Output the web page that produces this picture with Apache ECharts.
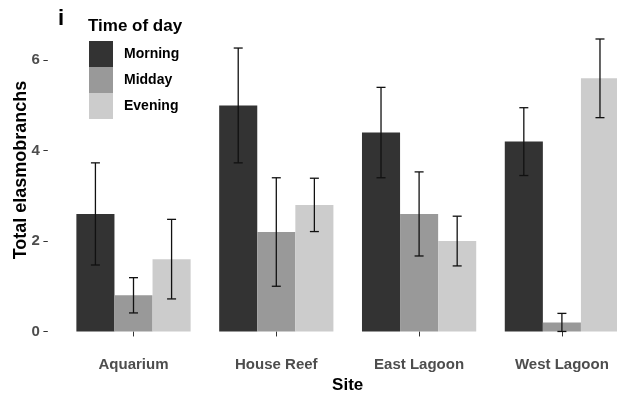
<!DOCTYPE html>
<html>
<head>
<meta charset="utf-8">
<script src="https://cdn.jsdelivr.net/npm/echarts@6/dist/echarts.min.js"></script>
<style>
  html, body { margin: 0; padding: 0; background: #fff; }
  #chart { width: 617px; height: 398px; }
</style>
</head>
<body>
<div id="chart"></div>
<script>
// Elasmobranch counts per site, split by time of day (mean ± SE)
const sites = ['Aquarium', 'House Reef', 'East Lagoon', 'West Lagoon'];
const periods = ['Morning', 'Midday', 'Evening'];
const morning = [2.6, 5.0, 4.4, 4.2];
const midday = [0.8, 2.2, 2.6, 0.2];
const evening = [1.6, 2.8, 2.0, 5.6];
const morningErr = [1.13, 1.27, 1.0, 0.75];
const middayErr = [0.39, 1.2, 0.93, 0.2];
const eveningErr = [0.88, 0.59, 0.55, 0.87];
const yTicks = [0, 2, 4, 6];

const means = [morning, midday, evening];
const errs = [morningErr, middayErr, eveningErr];
const fills = ['#333333', '#999999', '#cccccc'];
const GROUP = 0.8; // share of each category band covered by the bars

const chart = echarts.init(document.getElementById('chart'));

const barSeries = periods.map((p, k) => ({
  name: p,
  type: 'bar',
  data: means[k],
  barWidth: (GROUP * 100 / 3) + '%',
  barGap: '0%',
  itemStyle: { color: fills[k] },
  emphasis: { disabled: true },
  z: 2
}));

const errData = [];
periods.forEach((p, k) => {
  sites.forEach((s, i) => errData.push([i, means[k][i], errs[k][i], k]));
});

const errSeries = {
  type: 'custom',
  data: errData,
  z: 5,
  silent: true,
  renderItem: function (params, api) {
    const i = api.value(0), m = api.value(1), e = api.value(2), k = api.value(3);
    const band = api.size([1, 0])[0];
    const dx = (k - 1) * band * GROUP / 3;
    const top = api.coord([i, m + e]);
    const bot = api.coord([i, Math.max(m - e, 0)]);
    const x = top[0] + dx;
    const cap = 4.5;
    const style = { stroke: '#111', lineWidth: 1.3 };
    return {
      type: 'group',
      children: [
        { type: 'line', shape: { x1: x, y1: top[1], x2: x, y2: bot[1] }, style },
        { type: 'line', shape: { x1: x - cap, y1: top[1], x2: x + cap, y2: top[1] }, style },
        { type: 'line', shape: { x1: x - cap, y1: bot[1], x2: x + cap, y2: bot[1] }, style }
      ]
    };
  }
};

chart.setOption({
  animation: false,
  backgroundColor: '#ffffff',
  textStyle: { fontFamily: 'Liberation Sans, Arial, sans-serif' },
  title: {
    text: 'Time of day',
    left: 83,
    top: 13,
    textStyle: { fontSize: 17, fontWeight: 'bold', color: '#000' }
  },
  legend: {
    orient: 'vertical',
    left: 84,
    top: 36,
    itemWidth: 24,
    itemHeight: 26,
    itemGap: 0,
    icon: 'rect',
    data: periods,
    selectedMode: false,
    textStyle: { fontSize: 14, fontWeight: 'bold', color: '#000', padding: [0, 0, 0, 6] }
  },
  grid: {
    left: 62.1, width: 571.2, top: 22, bottom: 51.8,
    containLabel: false, outerBoundsMode: 'none'
  },
  xAxis: {
    type: 'category',
    data: sites,
    axisLine: { show: false },
    axisTick: { show: true, alignWithLabel: true, length: 5, lineStyle: { color: '#333' } },
    axisLabel: { fontSize: 15, fontWeight: 'bold', color: '#4d4d4d', margin: 11 },
    name: 'Site',
    nameLocation: 'middle',
    nameGap: 29,
    nameTextStyle: { fontSize: 17, fontWeight: 'bold', color: '#000' }
  },
  yAxis: {
    type: 'value',
    min: -0.326,
    max: 6.846,
    offset: 14.3,
    splitLine: { show: false },
    axisLine: { show: false },
    axisTick: { show: true, length: 4.4, customValues: yTicks, lineStyle: { color: '#333' } },
    axisLabel: { fontSize: 15, fontWeight: 'bold', color: '#4d4d4d', margin: 8, customValues: yTicks }
  },
  graphic: [
    {
      type: 'text',
      left: 58,
      top: 8,
      style: { text: 'i', fontSize: 22, fontWeight: 'bold', fill: '#000', fontFamily: 'Liberation Sans, Arial, sans-serif' }
    },
    {
      type: 'text',
      x: 21,
      y: 170,
      rotation: Math.PI / 2,
      style: {
        text: 'Total elasmobranchs',
        fontSize: 18,
        fontWeight: 'bold',
        fill: '#000',
        align: 'center',
        verticalAlign: 'middle',
        fontFamily: 'Liberation Sans, Arial, sans-serif'
      }
    }
  ],
  series: [...barSeries, errSeries]
});
</script>
</body>
</html>
